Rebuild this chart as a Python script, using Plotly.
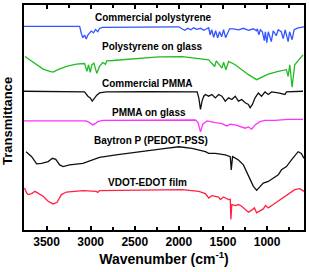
import plotly.graph_objects as go

# ---- data (wavenumber in cm^-1, transmittance in arbitrary offset units) ----
ps_comm_wn = [3756, 3351, 3125, 3106, 3088, 3069, 3050, 3032, 3013, 2994, 2968, 2945, 2919, 2900, 2866,
              2337, 2000, 1966, 1932, 1899, 1864, 1831, 1797, 1752, 1718, 1684, 1662, 1645, 1628, 1605,
              1583, 1560, 1538, 1515, 1493, 1470, 1448, 1425, 1380, 1324, 1268, 1211, 1155, 1121, 1110,
              1093, 1076, 1053, 1031, 1020, 1003, 986, 952, 930, 896, 873, 839, 817, 794, 761, 744, 716,
              693, 648, 581]
ps_comm_t = [205.5, 205.5, 205.5, 198.3, 194, 196.7, 192.7, 196.7, 198.3, 200.7, 199, 202.3, 200, 203.3, 204.5,
             205, 205, 203, 201.5, 203.5, 202, 204, 202.5, 203.5, 201.5, 203, 204, 197, 202, 194.5,
             201, 194, 200, 195, 202, 194, 199, 203, 203, 202, 203.5, 201.5, 203, 201, 203,
             197, 202, 200, 191, 200, 189, 200, 190, 201, 196, 202, 200, 193, 202, 190, 200, 192,
             202, 204, 205]

ps_glass_wn = [3745, 3688, 3613, 3539, 3463, 3426, 3370, 3275, 3163, 3069, 3043, 3024, 3005, 2987, 2964,
               2931, 2900, 2863, 2833, 2818, 2750, 2525, 2225, 1962, 1774, 1662, 1594, 1575, 1512, 1493,
               1467, 1436, 1361, 1287, 1211, 1118, 1062, 986, 873, 780, 761, 742, 716, 686, 640, 592]
ps_glass_t = [175, 171.7, 166.7, 162.3, 160, 159.3, 161.7, 165, 167.3, 168, 160, 166.7, 159, 166.7, 168.3,
              158, 165, 169, 167.3, 170.7, 171, 172.7, 174.7, 175, 173.3, 171.7, 165, 170.7, 163.3, 169.3,
              161.7, 170, 166.7, 161.7, 156.7, 151.7, 154, 157.3, 160, 161.7, 155, 166.7, 144, 166.7, 171.7, 176.7]

pmma_comm_wn = [3756, 3069, 3032, 3005, 2982, 2956, 2931, 2900, 2825, 2337, 1793, 1774, 1755, 1737, 1718,
                1699, 1662, 1625, 1586, 1549, 1512, 1474, 1436, 1399, 1361, 1324, 1287, 1248, 1211, 1192,
                1166, 1136, 1099, 1062, 1023, 986, 949, 873, 798, 780, 686, 592]
pmma_comm_t = [140, 139.3, 135, 133.3, 130, 133.3, 136, 138.3, 139.3, 139.5, 139.3, 133.3, 121.7, 130, 135,
               136.7, 135, 136.7, 133.3, 136.7, 135, 130, 133.3, 131.7, 135, 130, 131.7, 128.3, 126.7, 123.3,
               126.7, 133.3, 138.3, 135, 139.3, 136.7, 139.3, 138.3, 136.7, 139.3, 140, 140]

pmma_glass_wn = [3756, 3050, 3013, 2976, 2949, 2919, 2863, 2337, 1811, 1782, 1755, 1729, 1681, 1586, 1512,
                 1456, 1417, 1361, 1305, 1248, 1211, 1174, 1136, 1080, 1023, 911, 761, 592]
pmma_glass_t = [110, 110, 108.3, 106, 107.3, 109.3, 110.7, 111, 111, 108.3, 99, 106.7, 110, 108.3, 107.3,
                105, 106.7, 106, 104, 102.7, 104, 101.7, 106, 109.3, 110.7, 110.7, 111.7, 111.7]

baytron_wn = [3733, 3669, 3613, 3557, 3482, 3433, 3396, 3351, 3313, 3238, 3088, 2937, 2900, 2712, 2525,
              2337, 2149, 2000, 1850, 1699, 1662, 1586, 1474, 1417, 1406, 1391, 1324, 1268, 1211, 1155,
              1118, 1080, 1043, 986, 930, 873, 836, 780, 723, 648, 611, 581]
baytron_t = [79, 74, 66.7, 67.3, 69, 72.3, 71.3, 65.7, 64, 65.7, 67.3, 72.3, 73.3, 75.7, 78,
             80.7, 82.3, 84, 82.3, 79, 77.3, 77.3, 75.7, 74, 60.7, 74, 70.7, 65.7, 54, 44,
             40, 44, 47.3, 49, 52.3, 55.7, 60.7, 64, 70.7, 79, 77.3, 72.3]

vdot_wn = [3750, 3726, 3708, 3669, 3632, 3595, 3539, 3482, 3426, 3381, 3332, 3275, 3088, 2937, 2919,
           2900, 2712, 2225, 1962, 1774, 1699, 1662, 1625, 1586, 1549, 1530, 1493, 1436, 1417, 1410,
           1399, 1361, 1324, 1287, 1248, 1211, 1174, 1144, 1118, 1080, 1043, 1016, 986, 930, 873,
           817, 761, 686, 629, 581]
vdot_t = [42.3, 37.3, 35.7, 36.7, 39, 37.3, 34, 29, 26.3, 28, 35.7, 38.3, 39.7, 39, 38,
          39.7, 40, 40.7, 40.7, 39, 36.7, 32.3, 34.7, 34, 33.3, 30.7, 33.3, 30.7, 31, 10.7,
          25.7, 24.7, 25.7, 24, 20.7, 18, 20, 22.3, 17.3, 19, 21.3, 24.7, 22.3, 25.7, 29,
          32.3, 35.7, 40.7, 41.7, 39]

series_names = ["Commercial polystyrene", "Polystyrene on glass", "Commercial PMMA",
                "PMMA on glass", "Baytron P (PEDOT-PSS)", "VDOT-EDOT film"]
series_wn = [ps_comm_wn, ps_glass_wn, pmma_comm_wn, pmma_glass_wn, baytron_wn, vdot_wn]
series_t = [ps_comm_t, ps_glass_t, pmma_comm_t, pmma_glass_t, baytron_t, vdot_t]
series_colors = ["#3355ff", "#22bb22", "#111111", "#ff33ff", "#111111", "#ff2244"]

label_x = [2290, 2300, 2350, 2340, 2320, 2350]
label_y = [214, 185, 148.3, 119, 90, 48]

tick_vals = [3500, 3000, 2500, 2000, 1500, 1000]
tick_text = ["3500", "3000", "2500", "2000", "1500", "1000"]

FONT = "Liberation Sans, Arial"

fig = go.Figure()
for name, wn, t, c in zip(series_names, series_wn, series_t, series_colors):
    fig.add_trace(go.Scatter(x=wn, y=t, mode="lines", name=name,
                             line=dict(color=c, width=1.3), showlegend=False))

for name, lx, ly in zip(series_names, label_x, label_y):
    fig.add_annotation(x=lx, y=ly, text="<b>" + name + "</b>", showarrow=False,
                       font=dict(family=FONT, size=10, color="black"),
                       xanchor="center", yanchor="middle")

fig.add_annotation(xref="paper", yref="paper", x=-0.057, y=0.485, text="<b>Transmittance</b>",
                   textangle=-90, showarrow=False, xanchor="center", yanchor="middle",
                   font=dict(family=FONT, size=13, color="black"))

fig.update_layout(
    width=309, height=272,
    margin=dict(l=24, r=3, t=3, b=42),
    paper_bgcolor="white", plot_bgcolor="white",
    font=dict(family=FONT, color="black"),
)
fig.update_xaxes(range=[3756, 581], tickvals=tick_vals, ticktext=["<b>" + s + "</b>" for s in tick_text],
                 ticks="inside", ticklen=4, tickwidth=1.5, tickcolor="black",
                 minor=dict(dtick=250, ticks="inside", ticklen=3, tickwidth=1.5, tickcolor="black"),
                 showline=True, linewidth=2, linecolor="black", mirror="ticks",
                 showgrid=False, zeroline=False,
                 tickfont=dict(family=FONT, size=12, color="black"),
                 title=dict(text="<b>Wavenumber (cm<sup>-1</sup>)</b>", standoff=6,
                            font=dict(family=FONT, size=14, color="black")))
fig.update_yaxes(range=[0, 227], showticklabels=False, ticks="",
                 showline=True, linewidth=2, linecolor="black", mirror=True,
                 showgrid=False, zeroline=False)

fig.write_html("out.html", config={"displayModeBar": False},
               post_script="document.body.style.margin='0px';")
